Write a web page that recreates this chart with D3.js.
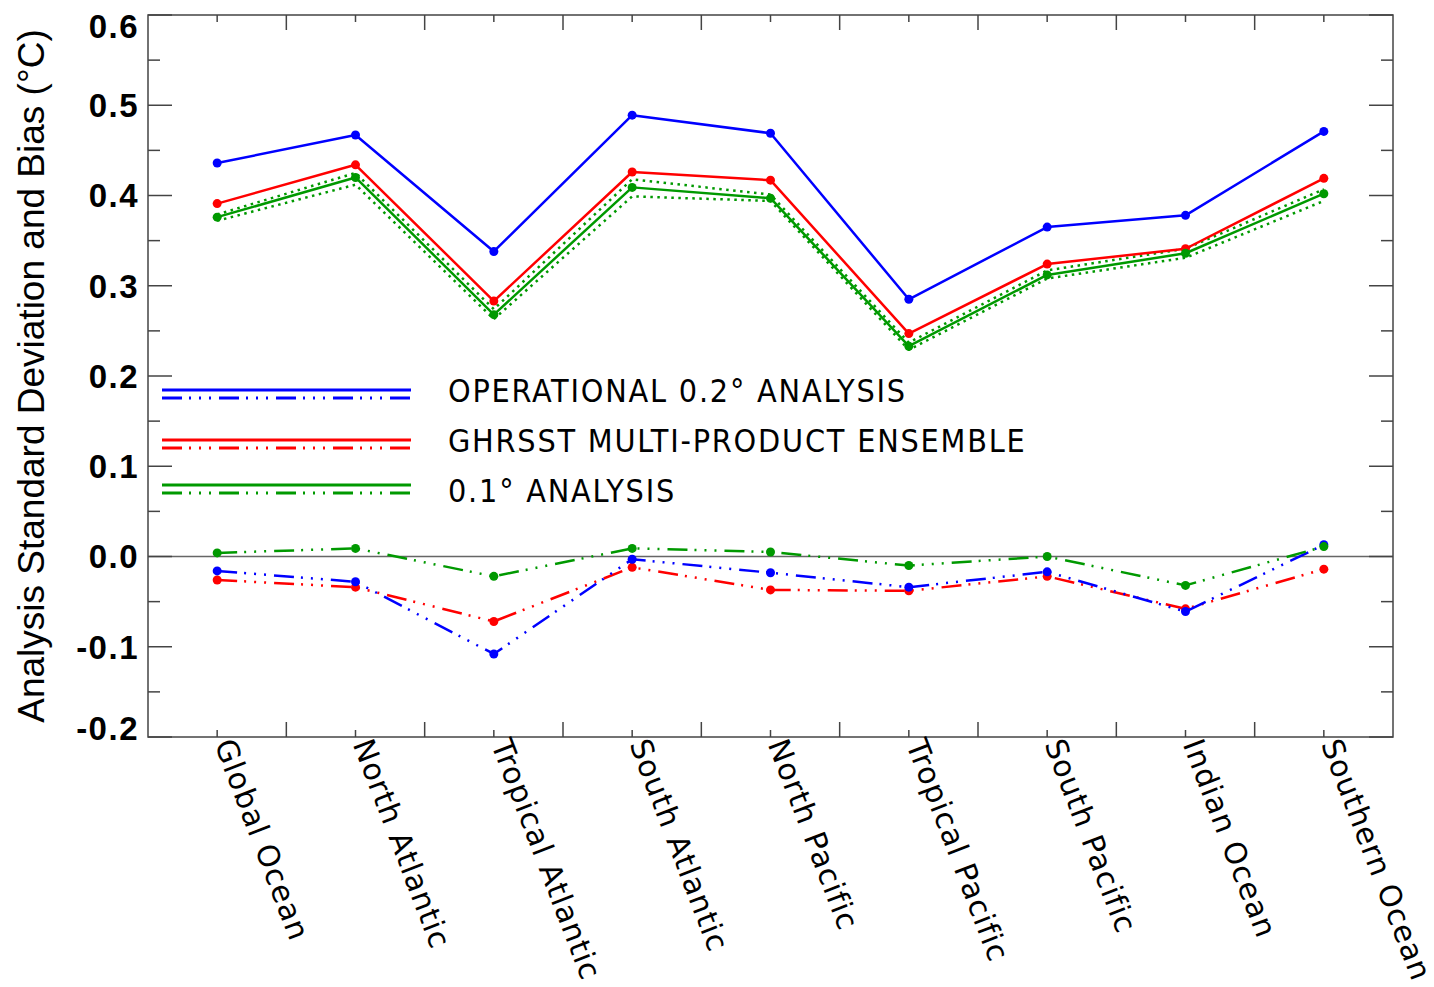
<!DOCTYPE html>
<html>
<head>
<meta charset="utf-8">
<script src="https://cdn.jsdelivr.net/npm/d3@7/dist/d3.min.js"></script>
<style>
  html, body { margin: 0; padding: 0; background: #fff; }
  svg { display: block; }
</style>
</head>
<body>
<svg id="chart" width="1434" height="987"></svg>
<script>
// ---- Data ----
const categories = ["Global Ocean", "North Atlantic", "Tropical Atlantic", "South Atlantic",
  "North Pacific", "Tropical Pacific", "South Pacific", "Indian Ocean", "Southern Ocean"];

const yTicks = [-0.2, -0.1, 0.0, 0.1, 0.2, 0.3, 0.4, 0.5, 0.6];
const yTickLabels = ["-0.2", "-0.1", "0.0", "0.1", "0.2", "0.3", "0.4", "0.5", "0.6"];

// standard deviation (solid)
const operationalStd = [0.436, 0.467, 0.338, 0.489, 0.469, 0.285, 0.365, 0.378, 0.471];
const ensembleStd    = [0.391, 0.434, 0.283, 0.426, 0.417, 0.247, 0.324, 0.341, 0.419];
const tenthStd       = [0.376, 0.420, 0.268, 0.409, 0.397, 0.233, 0.312, 0.336, 0.402];
// 0.1° analysis envelope (dotted)
const tenthStdUpper  = [0.379, 0.425, 0.274, 0.418, 0.401, 0.237, 0.317, 0.341, 0.407];
const tenthStdLower  = [0.372, 0.412, 0.263, 0.399, 0.394, 0.229, 0.308, 0.331, 0.394];

// bias (dash-dot-dot-dot)
const operationalBias = [-0.016, -0.028, -0.108, -0.003, -0.018, -0.034, -0.017, -0.061, 0.013];
const ensembleBias    = [-0.026, -0.034, -0.072, -0.012, -0.037, -0.038, -0.022, -0.058, -0.014];
const tenthBias       = [0.004, 0.009, -0.022, 0.009, 0.005, -0.010, 0.000, -0.032, 0.011];

const legendLabels = ["OPERATIONAL 0.2\u00B0 ANALYSIS", "GHRSST MULTI-PRODUCT ENSEMBLE", "0.1\u00B0 ANALYSIS"];
const yTitle = "Analysis Standard Deviation and Bias (\u00B0C)";

// ---- Layout ----
const L = 148, R = 1393, T = 15, B = 737;
const BLUE = "#0000ff", RED = "#ff0000", GREEN = "#009900";
const DASH3DOT = "20,7,2,8,2,8,2,8";

const svg = d3.select("#chart");
const x = d3.scalePoint().domain(categories).range([L, R]).padding(0.5);
const y = d3.scaleLinear().domain([-0.2, 0.6]).range([B, T]);
const step = x.step();

// zero line
svg.append("line").attr("x1", L).attr("x2", R).attr("y1", y(0)).attr("y2", y(0))
  .attr("stroke", "#666").attr("stroke-width", 1.5);

// ---- Frame & ticks ----
const axisColor = "#444";
const gAx = svg.append("g").attr("stroke", axisColor).attr("stroke-width", 1.5);
gAx.append("rect").attr("x", L).attr("y", T).attr("width", R - L).attr("height", B - T)
  .attr("fill", "none");

const minorY = d3.range(-0.15, 0.6, 0.1);
yTicks.forEach(v => {
  gAx.append("line").attr("x1", L).attr("x2", L + 24).attr("y1", y(v)).attr("y2", y(v));
  gAx.append("line").attr("x1", R).attr("x2", R - 24).attr("y1", y(v)).attr("y2", y(v));
});
minorY.forEach(v => {
  gAx.append("line").attr("x1", L).attr("x2", L + 12).attr("y1", y(v)).attr("y2", y(v));
  gAx.append("line").attr("x1", R).attr("x2", R - 12).attr("y1", y(v)).attr("y2", y(v));
});
categories.forEach((c, i) => {
  const cx = x(c);
  gAx.append("line").attr("x1", cx).attr("x2", cx).attr("y1", T).attr("y2", T + 7);
  gAx.append("line").attr("x1", cx).attr("x2", cx).attr("y1", B).attr("y2", B - 7);
  if (i < categories.length - 1) {
    const mx = cx + step / 2;
    gAx.append("line").attr("x1", mx).attr("x2", mx).attr("y1", T).attr("y2", T + 15);
    gAx.append("line").attr("x1", mx).attr("x2", mx).attr("y1", B).attr("y2", B - 15);
  }
});

// y tick labels
svg.append("g").selectAll("text").data(yTicks).join("text")
  .attr("x", 139)
  .attr("y", d => Math.min(Math.max(y(d), 26), 728))
  .attr("dy", "0.36em")
  .attr("text-anchor", "end")
  .attr("font-family", "Liberation Sans, Arial, sans-serif")
  .attr("font-weight", "bold")
  .attr("font-size", 33)
  .attr("letter-spacing", 1.5)
  .attr("fill", "#000")
  .text((d, i) => yTickLabels[i]);

// y title
svg.append("text")
  .attr("transform", `translate(44, ${(T + B) / 2}) rotate(-90)`)
  .attr("text-anchor", "middle")
  .attr("font-family", "Liberation Sans, Arial, sans-serif")
  .attr("font-size", 37)
  .attr("fill", "#000")
  .text(yTitle);

// x category labels
svg.append("g").selectAll("text").data(categories).join("text")
  .attr("transform", d => `translate(${x(d) - 3}, 744) rotate(69)`)
  .attr("text-anchor", "start")
  .attr("font-family", "DejaVu Sans, sans-serif")
  .attr("font-size", 30)
  .attr("letter-spacing", 1)
  .attr("fill", "#000")
  .text(d => d);

// ---- Series ----
const line = d3.line().x((d, i) => x(categories[i])).y(d => y(d));

function drawSeries(values, color, dash, markers) {
  svg.append("path").datum(values)
    .attr("d", line)
    .attr("fill", "none")
    .attr("stroke", color)
    .attr("stroke-width", 2.5)
    .attr("stroke-dasharray", dash)
    .attr("stroke-linejoin", "round");
  if (markers) {
    svg.append("g").selectAll("circle").data(values).join("circle")
      .attr("cx", (d, i) => x(categories[i]))
      .attr("cy", d => y(d))
      .attr("r", 4.5)
      .attr("fill", color);
  }
}

drawSeries(tenthStdUpper, GREEN, "2.5,4.5", false);
drawSeries(tenthStdLower, GREEN, "2.5,4.5", false);
drawSeries(ensembleStd, RED, null, true);
drawSeries(operationalStd, BLUE, null, true);
drawSeries(tenthStd, GREEN, null, true);
drawSeries(ensembleBias, RED, DASH3DOT, true);
drawSeries(operationalBias, BLUE, DASH3DOT, true);
drawSeries(tenthBias, GREEN, DASH3DOT, true);

// ---- Legend ----
const legendColors = [BLUE, RED, GREEN];
const legendSolidY = [390, 440, 485];
const gLeg = svg.append("g");
legendLabels.forEach((lab, i) => {
  const ys = legendSolidY[i];
  gLeg.append("line").attr("x1", 162).attr("x2", 411).attr("y1", ys).attr("y2", ys)
    .attr("stroke", legendColors[i]).attr("stroke-width", 3);
  gLeg.append("line").attr("x1", 162).attr("x2", 411).attr("y1", ys + 8).attr("y2", ys + 8)
    .attr("stroke", legendColors[i]).attr("stroke-width", 3).attr("stroke-dasharray", DASH3DOT);
  gLeg.append("text")
    .attr("x", 448).attr("y", ys + 12 + (i === 2 ? 5 : 0))
    .attr("font-family", "DejaVu Sans Condensed, DejaVu Sans, sans-serif")
    .attr("font-stretch", "condensed")
    .attr("font-size", 32)
    .attr("letter-spacing", 1.8)
    .attr("fill", "#000")
    .text(lab);
});
</script>
</body>
</html>
